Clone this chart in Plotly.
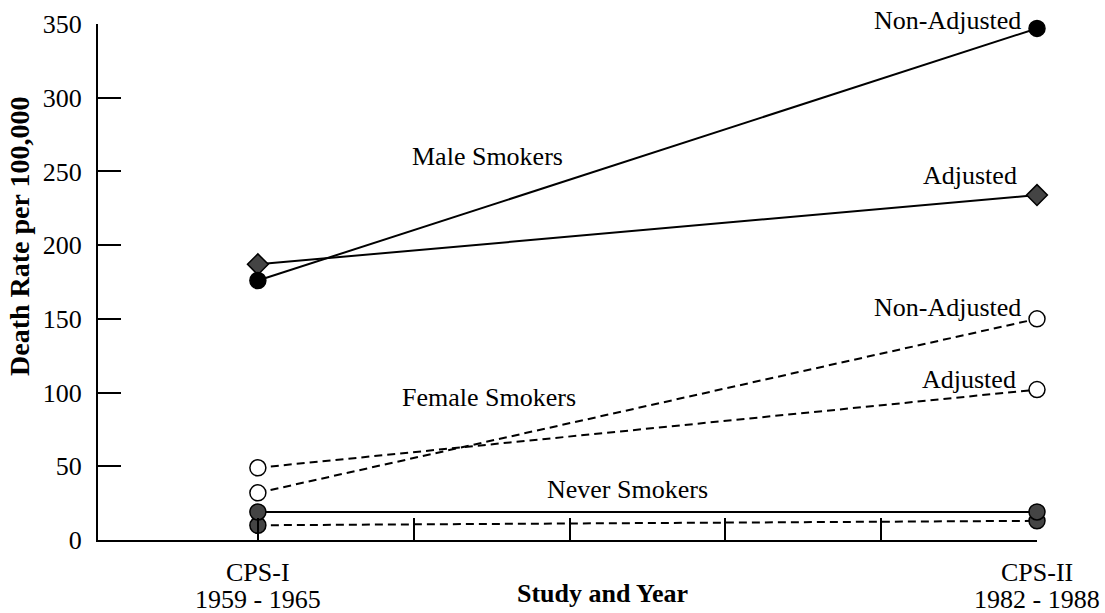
import plotly.graph_objects as go

# ---- data ----
study_pos = [0, 5]
study_names = ["CPS-I", "CPS-II"]
study_years = ["1959 - 1965", "1982 - 1988"]
tick_positions = [0, 1, 2, 3, 4, 5]
y_ticks = [0, 50, 100, 150, 200, 250, 300, 350]

male_nonadj = [176, 347]
male_adj = [187, 234]
female_nonadj = [32, 150]
female_adj = [49, 102]
never_a = [19, 19]
never_b = [10, 13]

FONT = "Liberation Serif, Times New Roman, serif"
FS = 26

# plot area in page pixels (reference): x 98..1037, y 24..540
W, H = 1105, 613
PX0, PX1, PY0, PY1 = 98, 1037, 24, 540
def px(x):
    return (x - PX0) / (PX1 - PX0)
def py(y):
    return (PY1 - y) / (PY1 - PY0)

fig = go.Figure()

def add(y, dash, symbol, fill, size=16):
    fig.add_trace(go.Scatter(
        x=study_pos, y=y, mode="lines+markers",
        line=dict(color="black", width=2, dash=dash),
        marker=dict(symbol=symbol, size=size, color=fill,
                    line=dict(color="black", width=1.5)),
        cliponaxis=False, showlegend=False, hoverinfo="skip"))

add(never_b, "8px,5px", "circle", "#444444")
add(never_a, "solid", "circle", "#444444")
add(female_adj, "8px,5px", "circle", "white")
add(female_nonadj, "8px,5px", "circle", "white")
add(male_adj, "solid", "diamond", "#444444", 16)
add(male_nonadj, "solid", "circle", "black")

ann_font = dict(family=FONT, size=FS, color="black")
labels = [
    ("Male Smokers", 487, 156, "center"),
    ("Female Smokers", 489, 397, "center"),
    ("Never Smokers", 627, 489, "center"),
    ("Non-Adjusted", 1023, 21, "right"),
    ("Adjusted", 1019, 176, "right"),
    ("Non-Adjusted", 1023, 307, "right"),
    ("Adjusted", 1018, 379, "right"),
]
for text, xp, yp, anchor in labels:
    fig.add_annotation(x=px(xp), y=py(yp), xref="paper", yref="paper",
                       text=text, showarrow=False,
                       xanchor=anchor, yanchor="middle", font=ann_font)

# category labels under the axis (two lines, tight spacing)
for xv, name, years in zip(study_pos, study_names, study_years):
    fig.add_annotation(x=xv, y=py(572), xref="x", yref="paper", text=name,
                       showarrow=False, xanchor="center", yanchor="middle", font=ann_font)
    fig.add_annotation(x=xv, y=py(599), xref="x", yref="paper", text=years,
                       showarrow=False, xanchor="center", yanchor="middle", font=ann_font)

# axis titles
fig.add_annotation(x=px(602), y=py(593), xref="paper", yref="paper",
                   text="<b>Study and Year</b>", showarrow=False,
                   xanchor="center", yanchor="middle",
                   font=dict(family=FONT, size=26, color="black"))
fig.add_annotation(x=px(20), y=py(237), xref="paper", yref="paper",
                   text="<b>Death Rate per 100,000</b>", showarrow=False, textangle=-90,
                   xanchor="center", yanchor="middle",
                   font=dict(family=FONT, size=28, color="black"))

fig.update_layout(
    width=W, height=H,
    margin=dict(l=PX0, r=W - PX1, t=PY0, b=H - PY1),
    paper_bgcolor="white", plot_bgcolor="white",
    font=dict(family=FONT, size=FS, color="black"),
    hovermode=False,
    xaxis=dict(range=[-1.026, 5], tickvals=tick_positions,
               ticktext=[""] * len(tick_positions),
               ticks="inside", ticklen=22, tickwidth=2, tickcolor="black",
               showline=True, linecolor="black", linewidth=2,
               showgrid=False, zeroline=False, automargin=False),
    yaxis=dict(range=[0, 350], tickvals=y_ticks,
               ticks="inside", ticklen=23, tickwidth=2, tickcolor="black",
               ticklabelstandoff=9,
               showline=True, linecolor="black", linewidth=2,
               showgrid=False, zeroline=False, automargin=False),
)

fig.write_html("out.html", config={"displayModeBar": False},
               post_script="document.body.style.margin='0';document.body.style.overflow='hidden';")
